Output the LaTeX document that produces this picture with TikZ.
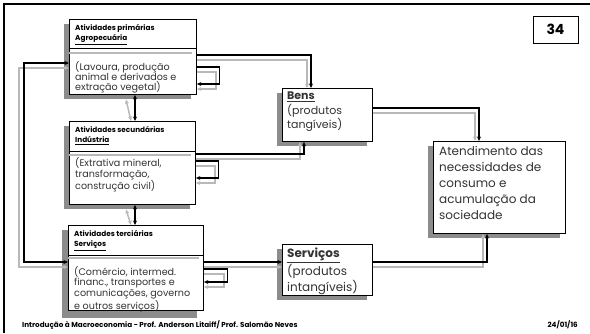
\documentclass[tikz,border=0pt]{standalone}
\usepackage{fontspec}
\setmainfont{Poppins}
\usetikzlibrary{arrows.meta}
\tikzset{
  box/.style={draw,line width=0.9pt,fill=white,anchor=north west,inner sep=0pt},
  boxshade/.style={fill=black!45,draw=none,anchor=north west,inner sep=0pt},
  head/.style={anchor=north west,inner sep=0pt,align=left,
    font=\fontsize{7.3pt}{10.5pt}\selectfont\bfseries},
  body/.style={anchor=north west,inner sep=0pt,align=left,text=black!80},
  divider/.style={line width=0.9pt},
  divshade/.style={line width=1.3pt,gray!55},
  conn/.style={line width=1.1pt,>={Stealth[length=4.5pt,width=4pt]}},
  connshade/.style={line width=1.5pt,draw=gray!55,>={Stealth[length=4.5pt,width=4pt]}},
}
\begin{document}
\begin{tikzpicture}[x=1pt,y=-1pt]
\useasboundingbox (0,0) rectangle (590,333);
% shadows
\node[boxshade,minimum width=127pt,minimum height=75pt] (primsh) at (64,24) {};
\node[boxshade,minimum width=126pt,minimum height=83pt] (secsh) at (64,126) {};
\node[boxshade,minimum width=135pt,minimum height=88pt] (tersh) at (62,230) {};
\node[boxshade,minimum width=90pt,minimum height=53pt] (benssh) at (277,93) {};
\node[boxshade,minimum width=90pt,minimum height=51pt] (servsh) at (277,249) {};
\node[boxshade,minimum width=132pt,minimum height=92pt] (atendsh) at (428,146) {};

% boxes
\node[box,minimum width=127pt,minimum height=75pt] (prim) at (69,19) {};
\node[box,minimum width=126pt,minimum height=83pt] (sec) at (69,121) {};
\node[box,minimum width=135pt,minimum height=85pt] (ter) at (68,225) {};
\node[box,minimum width=90pt,minimum height=53pt] (bens) at (282,88) {};
\node[box,minimum width=90pt,minimum height=51pt] (serv) at (282,244) {};
\node[box,minimum width=132pt,minimum height=92pt] (atend) at (433,141) {};

% slide frame
\draw[line width=2.2pt] (4,333) -- (4,4) -- (590,4);
\node[draw,line width=0.9pt,minimum width=45pt,minimum height=27pt,inner sep=0pt,
    font=\fontsize{14pt}{14pt}\selectfont\bfseries] (num) at (555.5,29.5) {34};

% headers and dividers
\draw[divider] ([yshift=-29pt]prim.north west) -- ([yshift=-29pt]prim.north east);
\draw[divshade] ([yshift=-34pt]prim.north west) -- ([xshift=-5pt,yshift=-34pt]prim.north east);
\draw[divider] ([yshift=-30pt]sec.north west) -- ([yshift=-30pt]sec.north east);
\draw[divshade] ([yshift=-34pt]sec.north west) -- ([xshift=-5pt,yshift=-34pt]sec.north east);
\draw[divider] ([yshift=-30pt]ter.north west) -- ([yshift=-30pt]ter.north east);
\draw[divshade] ([yshift=-33pt]ter.north west) -- ([xshift=-5pt,yshift=-33pt]ter.north east);

\node[head] (primhead) at ([xshift=6pt,yshift=-5pt]prim.north west)
    {Atividades primárias\\\underline{Agropecuária}};
\node[body,font=\fontsize{9.6pt}{9.8pt}\selectfont] (primbody) at ([xshift=6pt,yshift=-42pt]prim.north west)
    {(Lavoura, produção\\animal e derivados e\\extração vegetal)};
\node[head] (sechead) at ([xshift=6pt,yshift=-5pt]sec.north west)
    {Atividades secundárias\\\underline{Indústria}};
\node[body,font=\fontsize{9.6pt}{11.8pt}\selectfont] (secbody) at ([xshift=6pt,yshift=-36pt]sec.north west)
    {(Extrativa mineral,\\transformação,\\construção civil)};
\node[head] (terhead) at ([xshift=6pt,yshift=-5pt]ter.north west)
    {Atividades terciárias\\\underline{Serviços}};
\node[body,font=\fontsize{9.6pt}{10.8pt}\selectfont] (terbody) at ([xshift=6pt,yshift=-41pt]ter.north west)
    {(Comércio, intermed.\\financ., transportes e\\comunicações, governo\\e outros serviços)};
\node[body,font=\fontsize{11pt}{14.5pt}\selectfont] (benstext) at ([xshift=5pt,yshift=-4pt]bens.north west)
    {\textbf{\underline{Bens}}\\(produtos\\tangíveis)};
\node[body,font=\fontsize{12pt}{16pt}\selectfont] (servtext) at ([xshift=5pt,yshift=-4pt]serv.north west)
    {\textbf{\underline{Serviços}}\\(produtos\\intangíveis)};
\node[body,font=\fontsize{12pt}{16pt}\selectfont] (atendtext) at ([xshift=6pt,yshift=-5pt]atend.north west)
    {Atendimento das\\necessidades de\\consumo e\\acumulação da\\sociedade};

% footer
\node[anchor=base west,inner sep=0pt,font=\fontsize{7.2pt}{8pt}\selectfont\bfseries] (foot) at (22,327)
    {Introdução à Macroeconomia - Prof. Anderson Litaiff/ Prof. Salomão Neves};
\node[anchor=base east,inner sep=0pt,font=\fontsize{7.2pt}{8pt}\selectfont\bfseries] (date) at (578,327)
    {24/01/16};

\coordinate (t1) at ([yshift=-37pt]ter.north east);
\coordinate (t2) at ([yshift=-42pt]ter.north east);

% grey copies of the flows
\draw[connshade,->] ([yshift=-41pt]prim.north east) -| ([xshift=25pt]bens.north west);
\draw[connshade,->] ([yshift=-53pt]prim.north east) -- ++(19,0) |- ([yshift=-70pt]prim.north east);
\draw[connshade,->] ([yshift=-38pt]sec.north east) -| ([xshift=18pt]bens.south west);
\draw[connshade,->] ([yshift=-45pt]sec.north east) -- ++(19,0) |- ([yshift=-62pt]sec.north east);
\draw[connshade,->] ([yshift=-25pt]bens.north east) -| ([xshift=42pt]atend.north west);
\draw[connshade,->] (t2) -- (t2 -| serv.west);
\draw[connshade,->] ([yshift=-49pt]ter.north east) -- ++(20,0) |- ([yshift=-62pt]ter.north east);
\draw[connshade,->] ([yshift=-23pt]serv.north east) -| ([xshift=50pt]atend.south west);
\draw[connshade,<->] ([xshift=62pt]primsh.south west) -- ([xshift=62pt]sec.north west);
\draw[connshade,<->] ([xshift=62pt]secsh.south west) -- ([xshift=63pt]ter.north west);
\draw[connshade,<->] ([yshift=-49pt]prim.north west) -- ++(-50,0) |- ([yshift=-42pt]ter.north west);

% flows
\draw[conn,->] ([yshift=-36pt]prim.north east) -| ([xshift=29pt]bens.north west);
\draw[conn,->] ([yshift=-48pt]prim.north east) -- ++(23,0) |- ([yshift=-65pt]prim.north east);
\draw[conn,->] ([yshift=-33pt]sec.north east) -| ([xshift=22pt]bens.south west);
\draw[conn,->] ([yshift=-40pt]sec.north east) -- ++(23,0) |- ([yshift=-57pt]sec.north east);
\draw[conn,->] ([yshift=-20pt]bens.north east) -| ([xshift=46pt]atend.north west);
\draw[conn,->] (t1) -- (t1 -| serv.west);
\draw[conn,->] ([yshift=-44pt]ter.north east) -- ++(24,0) |- ([yshift=-57pt]ter.north east);
\draw[conn,->] ([yshift=-18pt]serv.north east) -| ([xshift=54pt]atend.south west);
\draw[conn,<->] ([xshift=66pt]prim.south west) -- ([xshift=66pt]sec.north west);
\draw[conn,<->] ([xshift=66pt]sec.south west) -- ([xshift=67pt]ter.north west);
\draw[conn,<->] ([yshift=-44pt]prim.north west) -- ++(-45,0) |- ([yshift=-37pt]ter.north west);
\end{tikzpicture}
\end{document}
